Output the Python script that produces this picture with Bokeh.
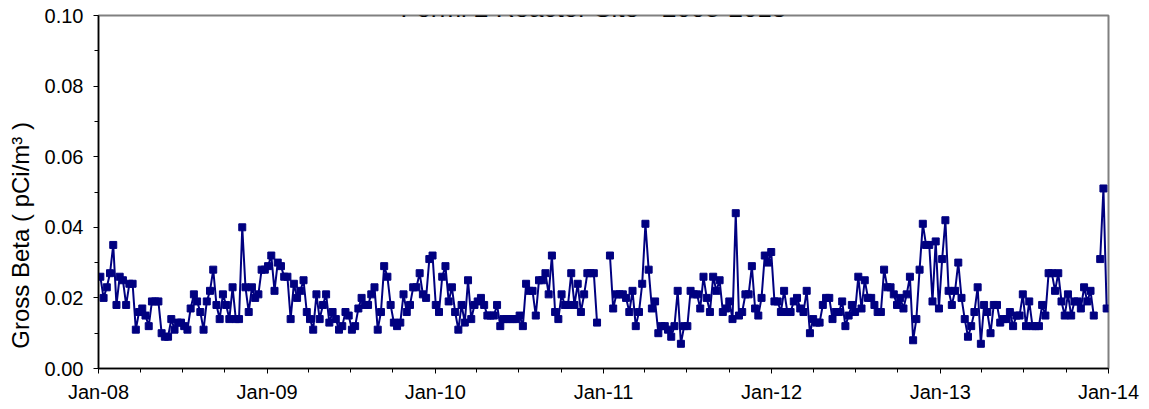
import math
from datetime import datetime
import pandas as pd
from bokeh.plotting import figure
from bokeh.models import (ColumnDataSource, Range1d, FixedTicker, DatetimeTickFormatter,
                          NumeralTickFormatter, Label)
from bokeh.embed import file_html
from bokeh.resources import INLINE

# ---------------- data (weekly gross beta, pCi/m3) ----------------
start_date = "2008-01-05"

beta_a = [0.026, 0.020, 0.023, 0.027, 0.035, 0.018, 0.026, 0.025, 0.018, 0.024,
          0.024, 0.011, 0.016, 0.017, 0.015, 0.012, 0.019, 0.019, 0.019, 0.010,
          0.009, 0.009, 0.014, 0.011, 0.013, 0.013, 0.012, 0.011, 0.017, 0.021,
          0.019, 0.016, 0.011, 0.019, 0.022, 0.028, 0.018, 0.014, 0.021, 0.018,
          0.014, 0.023, 0.014, 0.014, 0.040, 0.023, 0.016, 0.023, 0.020, 0.021,
          0.028, 0.028, 0.029, 0.032, 0.022]

beta_b = [0.030, 0.029, 0.026, 0.026, 0.014, 0.024, 0.020, 0.022, 0.025, 0.016,
          0.014, 0.011, 0.021, 0.014, 0.018, 0.021, 0.013, 0.016, 0.014, 0.011,
          0.012, 0.016, 0.015, 0.011, 0.012, 0.017, 0.020, 0.018, 0.018, 0.021,
          0.023, 0.011, 0.016, 0.029, 0.026, 0.018, 0.013, 0.012, 0.013, 0.021,
          0.016, 0.018, 0.023, 0.023, 0.027, 0.021, 0.020, 0.031, 0.032, 0.018,
          0.016, 0.026, 0.029, 0.019]

beta_c = [0.023, 0.016, 0.011, 0.018, 0.013, 0.025, 0.014, 0.018, 0.019, 0.020,
          0.018, 0.015, 0.015, 0.015, 0.018, 0.012, 0.014, 0.014, 0.014, 0.014,
          0.014, 0.015, 0.012, 0.024, 0.022, 0.022, 0.015, 0.025, 0.025, 0.027,
          0.021, 0.032, 0.016, 0.014, 0.021, 0.018, 0.018, 0.027, 0.018, 0.024,
          0.016, 0.021, 0.027, 0.027, 0.027, 0.013]
missing_c = 3   # no samples late Dec 2010

beta_d = [0.032, 0.017, 0.021, 0.021, 0.021, 0.020,
          0.016, 0.022, 0.012, 0.016, 0.024, 0.041, 0.028, 0.017, 0.019, 0.010,
          0.012, 0.012, 0.011, 0.009, 0.012, 0.022, 0.007, 0.012, 0.012, 0.022,
          0.021, 0.021, 0.017, 0.026, 0.020, 0.016, 0.026, 0.022, 0.025, 0.016,
          0.017, 0.019, 0.014, 0.044, 0.015, 0.016, 0.021, 0.021, 0.029, 0.017,
          0.015, 0.020, 0.032, 0.030, 0.033, 0.019, 0.019, 0.016, 0.022, 0.016,
          0.016, 0.019, 0.020]

beta_e = [0.017, 0.016, 0.022, 0.010, 0.014, 0.013, 0.013, 0.018, 0.020, 0.020,
          0.014, 0.016, 0.016, 0.019, 0.012, 0.015, 0.018, 0.016, 0.026, 0.017,
          0.025, 0.020, 0.020, 0.018, 0.016, 0.016, 0.028, 0.023, 0.023, 0.021,
          0.018, 0.020, 0.017, 0.021, 0.026, 0.008, 0.014, 0.028, 0.041, 0.035,
          0.035, 0.019, 0.036, 0.017, 0.031, 0.042, 0.022, 0.018, 0.022, 0.030,
          0.020, 0.014, 0.009, 0.012]

beta_f = [0.016, 0.023, 0.007, 0.018, 0.016, 0.010, 0.018, 0.018, 0.013, 0.014,
          0.014, 0.016, 0.012, 0.015, 0.015, 0.021, 0.012, 0.019, 0.012, 0.012,
          0.012, 0.018, 0.015, 0.027, 0.027, 0.022, 0.027, 0.019, 0.015, 0.021,
          0.015, 0.019, 0.019, 0.017, 0.023, 0.019, 0.022, 0.015]
missing_f = 1

beta_g = [0.031, 0.051, 0.017]

title_text = "Fermi 2 Reactor Site - 2008-2013"
y_label = "Gross Beta ( pCi/m\u00b3 )"
year_ticks = [datetime(y, 1, 1) for y in range(2008, 2015)]
quarter_ticks = [datetime(y, m, 1) for y in range(2008, 2014) for m in (4, 7, 10)]
y_major = [0.00, 0.02, 0.04, 0.06, 0.08, 0.10]
y_minor = [0.01, 0.03, 0.05, 0.07, 0.09]

# ---------------- build ----------------
nan = float("nan")
values = (beta_a + beta_b + beta_c + [nan] * missing_c + beta_d + beta_e + beta_f
          + [nan] * missing_f + beta_g)
dates = pd.date_range(start_date, periods=len(values), freq="7D")
src = ColumnDataSource(dict(date=dates, beta=values))

def ms(d):
    return (d - datetime(1970, 1, 1)).total_seconds() * 1000.0

FONT = "Liberation Sans"
NAVY = "#000080"

p = figure(width=1140, height=405, x_axis_type="datetime",
           x_range=Range1d(ms(datetime(2008, 1, 1)), ms(datetime(2014, 1, 1))),
           y_range=Range1d(0, 0.10),
           output_backend="svg", toolbar_location=None,
           min_border_left=98, min_border_right=32, min_border_top=15, min_border_bottom=33)

p.background_fill_color = "white"
p.border_fill_color = "white"
p.grid.visible = False
p.outline_line_color = "#808080"
p.outline_line_width = 2

p.line("date", "beta", source=src, line_color=NAVY, line_width=2)
p.scatter("date", "beta", source=src, marker="square", size=7,
          fill_color=NAVY, line_color=NAVY)

xa = p.xaxis[0]
xa.ticker = FixedTicker(ticks=[ms(d) for d in year_ticks],
                        minor_ticks=[ms(d) for d in quarter_ticks])
fmt = "%b-%y"
xa.formatter = DatetimeTickFormatter(microseconds=fmt, milliseconds=fmt, seconds=fmt,
                                     minsec=fmt, minutes=fmt, hourmin=fmt, hours=fmt,
                                     days=fmt, months=fmt, years=fmt)

ya = p.yaxis[0]
ya.ticker = FixedTicker(ticks=y_major, minor_ticks=y_minor)
ya.formatter = NumeralTickFormatter(format="0.00")
# trailing no-break spaces push the visible title below the frame centre, as in the original
ya.axis_label = y_label + "\u00a0" * 13
ya.axis_label_text_font = FONT
ya.axis_label_text_font_size = "24px"
ya.axis_label_text_font_style = "normal"
ya.axis_label_text_color = "black"
ya.axis_label_standoff = 8

for ax in (xa, ya):
    ax.axis_line_color = "black"
    ax.axis_line_width = 1.5
    ax.major_tick_line_color = "black"
    ax.minor_tick_line_color = "black"
    ax.major_tick_in = 0
    ax.major_tick_out = 5
    ax.minor_tick_in = 0
    ax.minor_tick_out = 4
    ax.major_label_text_font = FONT
    ax.major_label_text_font_size = "20px"
    ax.major_label_text_color = "black"
ya.major_label_standoff = 10
xa.major_label_standoff = 7

# chart title (cut off at the top edge, as in the original)
title = Label(x=ms(datetime(2010, 12, 10)), y=0.10, y_offset=8, text=title_text,
              text_font=FONT, text_font_size="26px", text_align="center",
              text_baseline="alphabetic", text_color="black")
p.add_layout(title)

open("out.html", "w").write(file_html(p, INLINE))
